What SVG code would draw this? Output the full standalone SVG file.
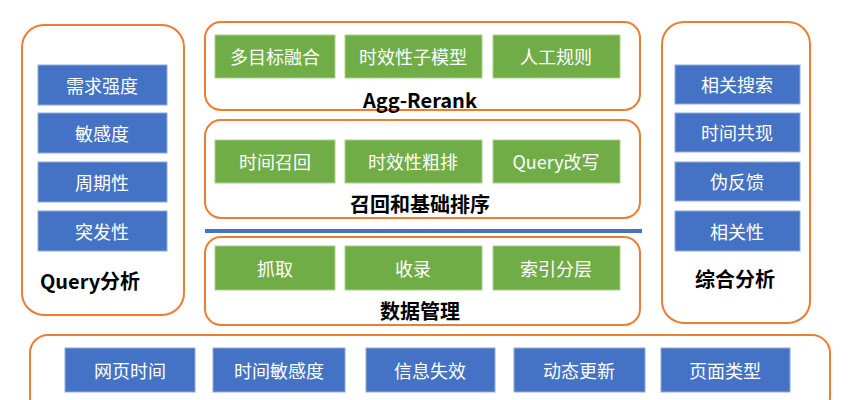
<svg xmlns="http://www.w3.org/2000/svg" width="848" height="400" viewBox="0 0 848 400">
<style>
.panel{fill:#fff;stroke:#ED7D31;stroke-width:2}
.b{fill:#4472C4;stroke:#8FAADC;stroke-width:1}
.g{fill:#70AD47;stroke:#A9D18E;stroke-width:1}
.t{font-family:"Noto Sans CJK SC","Liberation Sans",sans-serif;font-size:18px;fill:#fff;text-anchor:middle;dominant-baseline:central}
.h{font-family:"Noto Sans CJK SC","Liberation Sans",sans-serif;font-size:20px;font-weight:bold;fill:#000;text-anchor:middle;dominant-baseline:central}
</style>
<rect width="848" height="400" fill="#fff"/>
<g id="query">
<rect class="panel" x="22" y="25" width="162" height="290" rx="22"/>
<rect class="b" x="38" y="65" width="129" height="40"/><text class="t" x="102" y="85">需求强度</text>
<rect class="b" x="38" y="113" width="129" height="40"/><text class="t" x="102" y="133">敏感度</text>
<rect class="b" x="38" y="162" width="129" height="40"/><text class="t" x="102" y="182">周期性</text>
<rect class="b" x="38" y="211" width="129" height="40"/><text class="t" x="102" y="231">突发性</text>
<text class="h" x="90" y="280">Query分析</text>
</g>
<g id="agg">
<rect class="panel" x="205" y="22" width="435" height="88" rx="16"/>
<rect class="g" x="215" y="35" width="120" height="43"/><text class="t" x="275" y="56">多目标融合</text>
<rect class="g" x="345" y="35" width="137" height="43"/><text class="t" x="413" y="56">时效性子模型</text>
<rect class="g" x="493" y="35" width="127" height="43"/><text class="t" x="556" y="56">人工规则</text>
<text class="h" x="420" y="99">Agg-Rerank</text>
</g>
<g id="recall">
<rect class="panel" x="205" y="120" width="435" height="98" rx="16"/>
<rect class="g" x="215" y="140" width="120" height="43"/><text class="t" x="275" y="161">时间召回</text>
<rect class="g" x="345" y="140" width="137" height="43"/><text class="t" x="413" y="161">时效性粗排</text>
<rect class="g" x="493" y="140" width="127" height="43"/><text class="t" x="556" y="161">Query改写</text>
<text class="h" x="420" y="203">召回和基础排序</text>
</g>
<g id="divider"><line x1="205" y1="231" x2="642" y2="231" stroke="#4472C4" stroke-width="4"/></g>
<g id="data">
<rect class="panel" x="205" y="237" width="435" height="88" rx="16"/>
<rect class="g" x="215" y="246" width="120" height="44"/><text class="t" x="275" y="268">抓取</text>
<rect class="g" x="345" y="246" width="137" height="44"/><text class="t" x="413" y="268">收录</text>
<rect class="g" x="493" y="246" width="127" height="44"/><text class="t" x="556" y="268">索引分层</text>
<text class="h" x="420" y="310">数据管理</text>
</g>
<g id="analysis">
<rect class="panel" x="662" y="22" width="148" height="301" rx="22"/>
<rect class="b" x="675" y="65" width="125" height="39"/><text class="t" x="737" y="84">相关搜索</text>
<rect class="b" x="675" y="113" width="125" height="39"/><text class="t" x="737" y="132">时间共现</text>
<rect class="b" x="675" y="162" width="125" height="39"/><text class="t" x="737" y="181">伪反馈</text>
<rect class="b" x="675" y="211" width="125" height="40"/><text class="t" x="737" y="231">相关性</text>
<text class="h" x="735" y="278">综合分析</text>
</g>
<g id="bottom">
<rect class="panel" x="30" y="335" width="800" height="80" rx="18"/>
<rect class="b" x="65" y="348" width="130" height="44"/><text class="t" x="130" y="370">网页时间</text>
<rect class="b" x="213" y="348" width="132" height="44"/><text class="t" x="279" y="370">时间敏感度</text>
<rect class="b" x="366" y="348" width="129" height="44"/><text class="t" x="430" y="370">信息失效</text>
<rect class="b" x="514" y="348" width="131" height="44"/><text class="t" x="579" y="370">动态更新</text>
<rect class="b" x="661" y="348" width="129" height="44"/><text class="t" x="725" y="370">页面类型</text>
</g>
<g id="connectors"/>
</svg>
